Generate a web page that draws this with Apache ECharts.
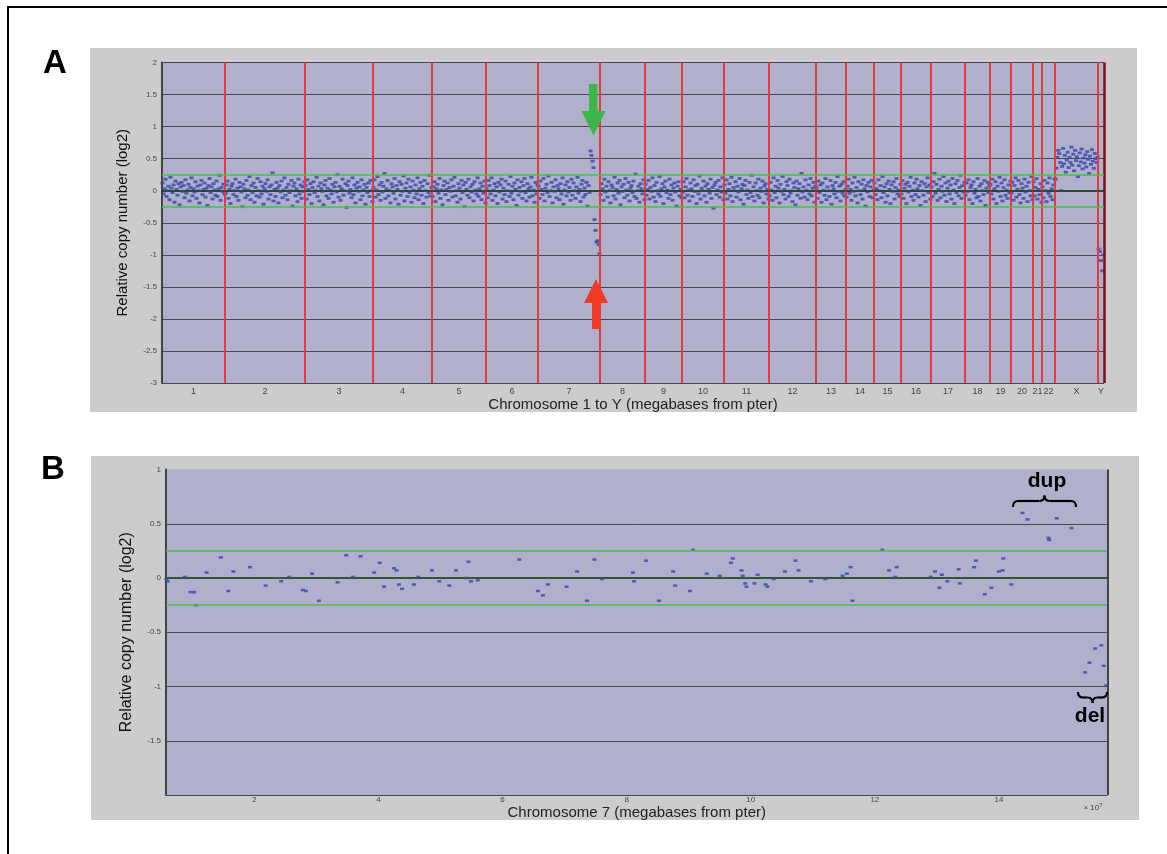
<!DOCTYPE html>
<html>
<head>
<meta charset="utf-8">
<script src="https://cdn.jsdelivr.net/npm/echarts@6/dist/echarts.min.js"></script>
<style>
  html, body { margin: 0; padding: 0; background: #fff; }
  #chart { width: 1167px; height: 854px; }
</style>
</head>
<body>
<div id="chart"></div>
<script>
// ---- panel A: whole genome, chromosomes laid end to end (widths in clone units) ----
const chromNames = ['1','2','3','4','5','6','7','8','9','10','11','12','13','14','15','16','17','18','19','20','21','22','X','Y'];
const chromSizes = [63,80,68,59,54,52,62,45,37,42,45,47,30,28,27,30,34,25,21,22,9,13,43,6];

// log2 ratios x100, clone order within each chromosome
const chr1 = [12,-5,3,18,-9,0,7,-14,21,4,-3,9,-18,15,2,-7,11,-22,6,13,-1,8,-11,17,-4,1,10,-16,5,20,-8,3,-2,14,-12,7,0,-19,9,16,-6,2,12,-10,4,-23,8,19,-3,6,-13,11,1,-7,15,-9,3,24,-15,5,-1,10,-5];
const chr2 = [-4,9,15,-12,2,-20,7,11,-6,0,18,-9,4,-15,13,6,-2,-25,10,3,-11,16,-7,1,22,-14,8,-3,12,-18,5,-8,19,0,-10,14,-5,7,-21,3,11,-1,17,-13,6,-6,9,28,-16,2,-9,13,4,-19,8,-2,15,-11,1,20,-7,5,-14,10,-3,0,16,-24,7,12,-8,3,-17,18,-5,9,-12,6,-1,14];
const chr3 = [8,-13,17,2,-6,11,-20,5,14,-3,0,21,-9,7,-16,12,3,-1,-22,9,16,-8,4,-12,19,1,-5,10,-18,6,13,-2,25,-10,7,-15,3,18,-7,0,11,-26,8,15,-4,2,-11,20,-6,9,-19,4,13,-1,6,-14,17,-8,1,10,-21,5,-3,12,-9,16,0,-17];
const chr4 = [5,17,-10,1,22,-6,9,-15,13,-2,7,27,-12,3,16,-8,0,-19,11,6,-4,19,-13,8,2,-21,14,-7,10,-1,23,-16,4,12,-9,18,-3,6,-18,15,1,-11,9,-5,20,-14,3,13,-7,7,-20,16,0,-10,11,-3,24,-8,5];
const chr5 = [-9,6,14,-17,3,10,-4,19,-12,1,-22,8,15,-6,2,12,-15,5,-1,17,-10,7,21,-8,0,-18,11,4,-13,16,-3,9,-25,13,2,-7,18,-11,6,-2,10,-16,14,1,-5,20,-9,3,12,-14,7,-4,15,-19];
const chr6 = [3,-11,16,8,-5,20,-15,1,11,-8,6,-20,13,-2,9,18,-13,4,-6,15,-17,0,10,-9,22,-4,7,-14,12,2,-23,17,-7,5,-1,14,-12,8,19,-3,-16,11,3,-10,6,21,-8,1,-18,13,-5,9];
const chr7 = [7,-12,15,2,-6,19,-16,4,10,-3,23,-9,0,13,-19,6,-1,17,-11,8,3,-14,11,-5,20,-21,1,9,-8,14,-2,5,-15,18,-7,12,0,-12,6,21,-4,2,-17,10,16,-10,4,-6,13,-24,8,-3,62,55,46,36,-45,-62,-80,-78,-84,-98];
const chr8 = [-6,11,3,-15,18,-2,7,-10,14,0,-19,9,5,-8,21,-13,2,12,-4,16,-22,6,-1,10,-11,19,1,-7,13,-16,4,8,-3,15,-9,26,-12,0,7,-18,11,3,-5,17,-14];
const chr9 = [10,-7,2,16,-13,5,-1,20,-10,8,-17,13,0,-5,22,-9,3,11,-20,6,15,-3,1,-12,18,-6,9,-15,4,12,-2,-24,7,14,-8,2,-11];
const chr10 = [-3,14,-11,6,19,-7,1,-16,12,3,-9,17,-1,8,-20,10,-5,23,-13,4,0,15,-8,7,-18,11,2,-4,18,-12,5,-27,9,13,-6,1,16,-10,6,-2,20,-14];
const chr11 = [9,-4,17,-13,2,11,-8,21,-17,5,0,14,-10,7,-2,19,-14,3,10,-21,8,16,-6,1,-12,13,-3,24,-9,6,-16,12,0,-7,18,-11,4,-1,15,-19,7,11,-5,2,-13];
const chr12 = [-8,13,1,-15,20,-3,7,-11,16,4,-19,10,-1,22,-6,2,-13,14,8,-9,18,-4,0,-17,12,5,-22,15,-7,3,11,-12,27,-2,6,-10,17,1,-14,9,-5,19,-8,4,13,-18,7];
const chr13 = [4,-12,15,-3,9,-18,12,1,-7,19,-14,6,0,-9,16,-21,8,3,-5,13,-11,22,-1,7,-16,10,-4,14,-8,2];
const chr14 = [-10,7,18,-4,2,-15,12,-1,21,-8,5,-19,14,0,-6,10,-13,17,3,-24,8,-2,13,-9,6,16,-11,1];
const chr15 = [12,-6,3,-14,17,0,8,-11,22,-3,6,-18,11,-8,15,2,-20,9,-1,14,-13,5,19,-5,1,-9,10];
const chr16 = [-5,16,-12,4,10,-20,13,-2,7,21,-9,1,-15,12,-6,18,3,-10,8,-23,14,0,-7,11,-17,6,20,-3,9,-13];
const chr17 = [6,-9,14,27,-4,10,-15,2,18,-11,7,-1,22,-7,12,-17,4,15,-5,9,-13,19,1,-20,11,-3,16,-8,5,24,-12,8,-2,13];
const chr18 = [-7,12,-1,17,-14,5,9,-20,14,-4,2,-11,19,-9,7,-16,11,0,-6,16,-23,4,13,-3,8];
const chr19 = [10,-5,18,-13,3,14,-20,7,-1,21,-9,12,-16,5,17,-7,1,-12,9,-3,15];
const chr20 = [-4,13,-15,8,20,-10,2,16,-6,-19,11,4,-12,18,-2,7,-17,13,0,-8,22,-14];
const chr21 = [14,-8,5,19,-13,2,-6,11,-18];
const chr22 = [6,-11,16,0,-17,12,-4,20,-9,3,-14,9,18];
const chrX = [18,35,52,63,58,44,0,38,66,42,55,29,48,60,36,52,44,68,40,57,31,63,47,53,22,39,59,45,65,34,51,43,56,37,61,49,27,54,41,64,46,35,58,50,44,52];
const chrY = [-91,-95,-109,-125,-100];

// ---- panel B: chromosome 7 clones ----
const chr7PosMb = [5.8,6.0,8.8,9.7,10.3,10.6,12.3,14.6,15.8,16.6,19.3,21.8,24.3,25.6,27.8,28.3,29.3,30.4,33.4,34.8,35.9,37.1,39.3,40.2,40.9,42.5,42.9,43.3,43.8,45.7,46.4,48.6,49.8,51.4,52.5,54.1,54.5,54.9,56.0,62.7,65.7,66.5,67.3,70.3,72.0,73.6,74.8,76.0,81.0,81.2,83.1,85.2,87.5,87.8,90.2,90.7,92.9,95.0,96.8,97.1,98.5,98.7,99.1,99.3,100.6,101.1,102.4,102.7,103.7,105.5,107.2,107.7,109.7,112.0,114.8,115.5,116.1,116.4,121.2,122.3,123.3,123.5,129.0,129.7,130.4,130.8,131.7,133.5,133.7,136.0,136.3,137.7,138.8,140.0,140.6,140.7,142.0,143.8,144.6,148.0,148.1,149.3,151.7,153.9,154.6,155.5,156.5,156.9,157.3];
const chr7Log2 = [-0.01,-0.03,0.01,-0.13,-0.13,-0.25,0.05,0.19,-0.12,0.06,0.10,-0.07,-0.03,0.01,-0.11,-0.12,0.04,-0.21,-0.04,0.21,0.01,0.20,0.05,0.14,-0.08,0.09,0.07,-0.06,-0.10,-0.06,0.01,0.07,-0.03,-0.07,0.07,0.00,0.15,-0.03,-0.02,0.17,-0.12,-0.16,-0.06,-0.08,0.06,-0.21,0.17,-0.01,0.05,-0.03,0.16,-0.21,0.06,-0.07,-0.12,0.26,0.04,0.02,0.14,0.18,0.07,0.02,-0.05,-0.08,-0.05,0.03,-0.06,-0.08,-0.01,0.06,0.16,0.07,-0.03,-0.01,0.02,0.04,0.10,-0.21,0.26,0.07,0.01,0.10,0.01,0.06,-0.09,0.03,-0.03,0.08,-0.05,0.10,0.16,-0.15,-0.09,0.06,0.07,0.18,-0.06,0.60,0.54,0.37,0.35,0.55,0.46,-0.87,-0.78,-0.65,-0.62,-0.81,-0.99];
const chr7TickLabels = [2,4,6,8,10,12,14];   // x 10^7

const thresholds = [0.25, -0.25];

// build panel A points
const chromData = [chr1,chr2,chr3,chr4,chr5,chr6,chr7,chr8,chr9,chr10,chr11,chr12,chr13,chr14,chr15,chr16,chr17,chr18,chr19,chr20,chr21,chr22,chrX,chrY];
const bounds = [0];
chromSizes.forEach(s => bounds.push(bounds[bounds.length - 1] + s));
const centers = chromSizes.map((s, i) => bounds[i] + s / 2);
const genomePoints = [];
chromData.forEach((vals, i) => {
  const step = chromSizes[i] / vals.length;
  vals.forEach((v, j) => genomePoints.push([bounds[i] + (j + 0.5) * step, v / 100]));
});
const total = bounds[bounds.length - 1];

const chr7Points = chr7PosMb.map((p, i) => [p / 10, chr7Log2[i]]);

const FONT = 'Liberation Sans';
var myChart = echarts.init(document.getElementById('chart'));

const hLines = (zeroColor) => [
  { yAxis: 0, lineStyle: { color: zeroColor, width: 1.6, type: 'solid' } },
  ...thresholds.map(t => ({ yAxis: t, lineStyle: { color: '#4cbb4c', width: 1.5, type: 'solid' } }))
];

const redLines = bounds.slice(1, -1).map(b => ({ xAxis: b, lineStyle: { color: '#e5393b', width: 2, type: 'solid' } }));
redLines.push({ xAxis: total, lineStyle: { color: '#7a1010', width: 2.5, type: 'solid' } });

// curly brace built from quadratic curves
function brace(x1, x2, yEnd, yMid, yTip) {
  const xm = (x1 + x2) / 2, r = 5;
  const st = { stroke: '#000', lineWidth: 2.2, fill: 'none' };
  return [
    { type: 'bezierCurve', z: 100, shape: { x1: x1, y1: yEnd, x2: x1 + r, y2: yMid, cpx1: x1, cpy1: yMid }, style: st },
    { type: 'line', z: 100, shape: { x1: x1 + r, y1: yMid, x2: xm - r, y2: yMid }, style: st },
    { type: 'bezierCurve', z: 100, shape: { x1: xm - r, y1: yMid, x2: xm, y2: yTip, cpx1: xm, cpy1: yMid }, style: st },
    { type: 'bezierCurve', z: 100, shape: { x1: xm, y1: yTip, x2: xm + r, y2: yMid, cpx1: xm, cpy1: yMid }, style: st },
    { type: 'line', z: 100, shape: { x1: xm + r, y1: yMid, x2: x2 - r, y2: yMid }, style: st },
    { type: 'bezierCurve', z: 100, shape: { x1: x2 - r, y1: yMid, x2: x2, y2: yEnd, cpx1: x2, cpy1: yMid }, style: st }
  ];
}

myChart.setOption({
  backgroundColor: '#ffffff',
  animation: false,
  textStyle: { fontFamily: FONT },
  grid: [
    { left: 162, top: 62.5, width: total, height: 320.5, show: true, backgroundColor: '#b0b0cc', borderWidth: 0 },
    { left: 166, top: 469.5, width: 941.5, height: 325.5, show: true, backgroundColor: '#b0b0cc', borderWidth: 0 }
  ],
  xAxis: [
    {
      gridIndex: 0, type: 'value', min: 0, max: total,
      name: 'Chromosome 1 to Y (megabases from pter)', nameLocation: 'middle', nameGap: 13,
      nameTextStyle: { fontSize: 15, color: '#222', fontFamily: FONT },
      axisLine: { show: true, lineStyle: { color: '#333', width: 2 } },
      axisTick: { show: false },
      splitLine: { show: false },
      axisLabel: {
        customValues: centers, fontSize: 9, color: '#444', margin: 4,
        formatter: (v) => {
          let best = 0;
          centers.forEach((c, i) => { if (Math.abs(c - v) < Math.abs(centers[best] - v)) best = i; });
          return chromNames[best];
        }
      }
    },
    {
      gridIndex: 1, type: 'value', min: 0.575, max: 15.75,
      name: 'Chromosome 7 (megabases from pter)', nameLocation: 'middle', nameGap: 1,
      nameTextStyle: { fontSize: 15, color: '#222', fontFamily: FONT },
      axisLine: { show: true, lineStyle: { color: '#333', width: 2 } },
      axisTick: { show: false },
      splitLine: { show: false },
      axisLabel: { customValues: chr7TickLabels, fontSize: 8, color: '#444', margin: 1 }
    }
  ],
  yAxis: [
    {
      gridIndex: 0, type: 'value', min: -3, max: 2, interval: 0.5,
      name: 'Relative copy number (log2)', nameLocation: 'middle', nameGap: 32,
      nameTextStyle: { fontSize: 15, color: '#111', fontFamily: FONT },
      axisLine: { show: true, lineStyle: { color: '#444', width: 2 } },
      axisTick: { show: false },
      axisLabel: { fontSize: 8, color: '#444', margin: 5 },
      splitLine: { show: true, lineStyle: { color: '#4a4a55', width: 1.2 } }
    },
    {
      gridIndex: 1, type: 'value', min: -2, max: 1, interval: 0.5,
      name: 'Relative copy number (log2)', nameLocation: 'middle', nameGap: 31,
      nameTextStyle: { fontSize: 16, color: '#111', fontFamily: FONT },
      axisLine: { show: true, lineStyle: { color: '#444', width: 2 } },
      axisTick: { show: false },
      axisLabel: { fontSize: 8, color: '#444', margin: 5, showMinLabel: false },
      splitLine: { show: true, showMaxLine: false, lineStyle: { color: '#4a4a55', width: 1 } }
    }
  ],
  series: [
    {
      name: 'guidesA', type: 'line', xAxisIndex: 0, yAxisIndex: 0, data: [], z: 1,
      markLine: { silent: true, symbol: 'none', label: { show: false }, animation: false,
        data: [...redLines, ...hLines('#2e4d34')] }
    },
    {
      name: 'genome', type: 'scatter', xAxisIndex: 0, yAxisIndex: 0, z: 3,
      symbol: 'rect', symbolSize: [4, 2.8],
      itemStyle: { color: '#3446ad' },
      data: genomePoints
    },
    {
      name: 'guidesB', type: 'line', xAxisIndex: 1, yAxisIndex: 1, data: [], z: 1,
      markLine: { silent: true, symbol: 'none', label: { show: false }, animation: false,
        data: [...hLines('#35603a'), { xAxis: 15.75, lineStyle: { color: '#444', width: 2, type: 'solid' } }] }
    },
    {
      name: 'chr7', type: 'scatter', xAxisIndex: 1, yAxisIndex: 1, z: 3,
      symbol: 'rect', symbolSize: [4, 2.5],
      itemStyle: { color: '#3446ad' },
      data: chr7Points
    }
  ],
  graphic: [
    { type: 'rect', z: -100, shape: { x: 8, y: 7, width: 1200, height: 900 }, style: { fill: '#fff', stroke: '#000', lineWidth: 2 } },
    { type: 'rect', z: -90, shape: { x: 90, y: 48, width: 1047, height: 364 }, style: { fill: '#cccccc' } },
    { type: 'rect', z: -90, shape: { x: 91, y: 456, width: 1048, height: 364 }, style: { fill: '#cccccc' } },
    { type: 'text', z: 100, x: 55, y: 64, style: { text: 'A', fontSize: 33, fontWeight: 'bold', fontFamily: FONT, fill: '#000', align: 'center', verticalAlign: 'middle' } },
    { type: 'text', z: 100, x: 53, y: 470, style: { text: 'B', fontSize: 33, fontWeight: 'bold', fontFamily: FONT, fill: '#000', align: 'center', verticalAlign: 'middle' } },
    // arrows on panel A
    { type: 'polygon', z: 100, shape: { points: [[589,84],[597.5,84],[597.5,111],[605.5,111],[593.5,135.5],[581.5,111],[589,111]] }, style: { fill: '#3cb54a' } },
    { type: 'polygon', z: 100, shape: { points: [[592,329],[600,329],[600,303],[608,303],[596,279],[584,303],[592,303]] }, style: { fill: '#ef3b24' } },
    // dup / del annotations on panel B
    { type: 'text', z: 100, x: 1047, y: 481, style: { text: 'dup', fontSize: 21, fontWeight: 'bold', fontFamily: FONT, fill: '#000', align: 'center', verticalAlign: 'middle' } },
    ...brace(1013, 1076, 507, 501, 495.5),
    { type: 'text', z: 100, x: 1090, y: 716, style: { text: 'del', fontSize: 21, fontWeight: 'bold', fontFamily: FONT, fill: '#000', align: 'center', verticalAlign: 'middle' } },
    ...brace(1078, 1107, 692, 697.5, 703),
    { type: 'text', z: 100, x: 1093, y: 808, style: { text: '× 10{s|7}', rich: { s: { fontSize: 6, verticalAlign: 'top', padding: [0, 0, 6, 0] } }, fontSize: 8, fontFamily: FONT, fill: '#444', align: 'center', verticalAlign: 'middle' } }
  ]
});

window.addEventListener('resize', function () {
  myChart.resize();
});
</script>
</body>
</html>
